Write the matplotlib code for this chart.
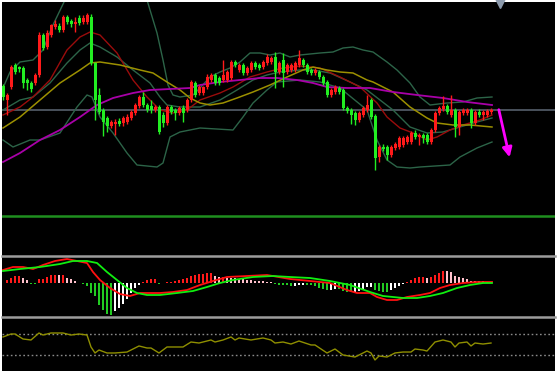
import numpy as np
import matplotlib
matplotlib.use('Agg')
import matplotlib.pyplot as plt
from matplotlib.lines import Line2D

# candles (price units), red = up, green = down
opens = [114, 100, 113, 135, 133, 132, 120, 117, 117, 125, 165, 153, 165, 173, 174, 170, 183, 179, 176, 182,
         178, 178, 183, 137, 105, 90, 82, 74, 76, 79, 77, 78, 82, 87, 94, 103, 95, 94, 90, 93,
         85, 77, 93, 90, 87, 92, 90, 100, 117, 107, 107, 113, 120, 125, 122, 120, 120, 122, 138, 130,
         135, 127, 130, 137, 135, 133, 137, 138, 143, 128, 140, 128, 130, 130, 135, 140, 135, 130, 127, 128,
         123, 118, 105, 108, 112, 110, 92, 90, 87, 80, 85, 90, 100, 84, 43, 53, 53, 45, 52, 53,
         55, 58, 58, 67, 63, 65, 65, 58, 70, 87, 91, 94, 85, 90, 73, 87, 87, 90, 77, 88,
         85, 85, 88]
closes = [103, 105, 133, 128, 131, 117, 117, 111, 125, 165, 152, 167, 175, 176, 170, 183, 178, 176, 178, 177,
          182, 185, 137, 100, 88, 78, 74, 78, 78, 76, 82, 83, 88, 95, 103, 95, 90, 90, 93, 68,
          77, 93, 88, 87, 92, 87, 100, 118, 105, 113, 113, 123, 125, 117, 117, 125, 128, 138, 135, 135,
          127, 132, 137, 133, 132, 138, 143, 142, 128, 137, 127, 135, 135, 137, 142, 135, 128, 127, 130, 123,
          117, 105, 110, 113, 108, 92, 89, 85, 80, 87, 92, 95, 83, 42, 53, 51, 45, 53, 56, 62,
          62, 63, 67, 63, 65, 62, 58, 70, 87, 92, 94, 88, 90, 73, 88, 90, 90, 77, 88, 85,
          88, 89, 90]
highs = [116, 107, 135, 137, 134, 134, 122, 119, 127, 168, 167, 170, 176, 180, 177, 185, 185, 181, 183, 185,
         185, 187, 186, 138, 112, 92, 84, 80, 81, 82, 84, 86, 90, 97, 105, 108, 97, 100, 95, 95,
         88, 95, 95, 92, 94, 95, 102, 120, 119, 115, 114, 126, 127, 127, 124, 140, 130, 140, 140, 137,
         137, 134, 139, 139, 137, 140, 146, 144, 148, 139, 147, 137, 137, 139, 150, 142, 137, 132, 132, 130,
         125, 120, 112, 115, 114, 112, 94, 92, 89, 89, 94, 105, 102, 86, 55, 56, 55, 55, 58, 64,
         64, 65, 69, 70, 67, 67, 67, 72, 89, 94, 104, 96, 105, 92, 90, 92, 92, 92, 90, 91,
         90, 91, 92]
lows = [100, 85, 111, 126, 128, 112, 110, 108, 115, 123, 150, 151, 163, 171, 168, 168, 176, 173, 168, 175,
        176, 176, 135, 80, 86, 64, 68, 72, 65, 74, 74, 76, 80, 85, 92, 93, 88, 87, 88, 66,
        73, 75, 86, 80, 85, 78, 88, 98, 103, 105, 105, 111, 118, 115, 115, 118, 118, 120, 133, 128,
        125, 125, 128, 131, 130, 131, 135, 136, 112, 126, 113, 126, 128, 128, 133, 133, 126, 125, 125, 121,
        115, 103, 103, 106, 106, 90, 87, 76, 75, 78, 83, 88, 81, 30, 38, 49, 40, 43, 50, 51,
        53, 56, 56, 61, 55, 57, 56, 56, 68, 85, 89, 86, 83, 63, 65, 85, 85, 72, 75, 83,
        80, 83, 86]

# indicator lines (bar index, price)
bb_up_x = [0, 1.75, 4.25, 7.5, 10, 12.25, 15.5, 20.5, 25.5, 30.5, 36, 38.5, 40, 41.25, 42.5, 44.25, 47.5,
           49.25, 51.75, 54.25, 56.75, 59.25, 61.75, 64.25, 66.75, 69.25, 71.75, 74.25, 79.25, 82.5, 85,
           87.5, 90, 92.5, 96, 98.5, 101.75, 104.25, 106.75, 111, 115, 118.5, 122.25]
bb_up_y = [112, 128, 138, 140, 150, 173, 200, 230, 242, 230, 200, 167, 140, 115, 105, 103, 105,
           112, 123, 128, 132, 138, 147, 147, 145, 147, 143, 145, 147, 148, 152,
           153, 150, 148, 138, 130, 117, 103, 95, 97, 98, 102, 103]
bb_mid_x = [0, 4.25, 7.5, 11.75, 16, 19.25, 21.75, 24.25, 28.5, 32.5, 36.75, 39.25, 41, 44.25, 49.25,
            54.25, 58.5, 62.5, 66, 69.25, 74.25, 77.5, 81.75, 86.75, 91, 94.25, 97.5, 101.75, 106,
            110, 114.25, 118.5, 122.25]
bb_mid_y = [90, 100, 103, 117, 137, 150, 157, 153, 143, 130, 117, 103, 95, 93, 93,
            100, 110, 120, 125, 128, 130, 130, 127, 118, 110, 100, 90, 73, 67,
            68, 73, 78, 82]
bb_lo_x = [0, 2.5, 6.75, 9.25, 14.25, 18.5, 21, 22.25, 24.25, 27.5, 31, 33.5, 38.5, 40, 41.75, 44.25,
           46.75, 49.25, 57.5, 60, 62.5, 66, 68.5, 74.25, 79.25, 84.25, 91, 93.5, 96, 98.5, 101.75,
           104.25, 111.75, 114.25, 118.5, 122.25]
bb_lo_y = [60, 53, 60, 60, 67, 93, 105, 103, 83, 67, 47, 35, 33, 37, 63, 68,
           70, 72, 70, 83, 97, 110, 118, 120, 118, 112, 90, 60, 40, 33, 32,
           33, 35, 43, 52, 58]
red_x = [0, 4.25, 7.5, 11.75, 16, 19.25, 21.75, 24.25, 28.5, 32.5, 36, 39.25, 42.5, 46, 49.25, 54.25,
         57.5, 61.75, 66, 70, 74.25, 79.25, 84.25, 89.25, 93.5, 96, 99.25, 102.5, 106, 108.5, 111.75,
         115, 119.25, 122.25]
red_y = [85, 93, 103, 120, 150, 163, 168, 165, 147, 120, 103, 90, 87, 90, 100, 107,
         113, 123, 128, 132, 134, 132, 123, 113, 97, 83, 72, 67, 60, 63, 70,
         75, 80, 85]
yel_x = [0, 4.25, 9.25, 14.25, 19.25, 21.75, 24.25, 29.25, 34.25, 37.5, 41, 44.25, 46.75, 49.25, 51.75,
         55, 58.5, 62.5, 66.75, 71, 75, 77.5, 81, 84.25, 87.5, 91, 92.5, 97.5, 101.75, 106, 108.5,
         112.5, 116.75, 122.25]
yel_y = [72, 83, 100, 117, 130, 137, 138, 135, 130, 127, 118, 110, 102, 97, 95,
         97, 102, 108, 115, 123, 130, 133, 130, 128, 127, 120, 118, 108, 93, 82, 77,
         75, 75, 73]
mag_x = [0, 4.25, 9.25, 14.25, 19.25, 23.5, 27.5, 32.5, 36.75, 41.75, 46.75, 49.25, 54.25, 59.25, 64.25,
         68.5, 73.5, 77.5, 81, 86, 91.75, 97.5, 103.5, 110, 116, 122.25]
mag_y = [38, 47, 60, 70, 83, 95, 102, 107, 110, 111, 112, 115, 118, 120, 122,
         122, 120, 117, 113, 112, 112, 108, 105, 102, 98, 95]
support_level = 90
green_level = -16

# MACD
macd_hist = [0.5, 3, 5, 7, 7.5, 5, 3, -1, -1, 4, 4.5, 6, 8, 8.5, 8, 8.5, 5, 4, 2, 0.3,
             -1, -3, -10, -13, -22, -27, -31, -31.5, -28, -25, -21, -16, -10, -5, -2, 1, 3, 4, 4.2, -0.5,
             0.5, 1, 1.2, 2, 3, 4, 5, 7, 8, 9, 9.2, 10, 10.5, 7, 6, 6.2, 5, 4.8, 4.6, 4,
             3.8, 3, 2.8, 2.5, 2.3, 2, 1.5, 1,
             -1, -2, -2.2, -2.4, -3, -2.8, -2.2, -2, -2.2, -2.4, -3, -5, -6, -7, -6.8, -6, -6.2, -8, -9, -9.3,
             -9, -8, -6, -4, -3.8, -7, -8, -9, -9.2, -7, -5, -3, -1, 1, 3, 5, 6, 6.2, 5, 6,
             8, 10, 12, 11.8, 11, 7, 6, 5, 4, 2.5, 2.3, 2, 1.8, 1.5, 1.3]
macd_x = [0, 2.5, 5, 7.5, 10, 13, 16, 18.5, 21, 22.5, 24.25, 26.75, 29.25, 31.75, 34.25, 36.75, 39.25,
          42.5, 46, 49.25, 52.5, 56, 61, 66, 71.75, 76.75, 81.75, 86, 88.5, 91.75, 93.5, 96, 98.5,
          101, 104.25, 106.75, 109.25, 111.75, 115, 118.5, 122.25]
macd_y = [13, 16, 16, 14, 18, 22, 24, 22, 20, 11, 3, -5, -11, -13, -10, -10, -10,
          -9, -7, -2, 2, 6, 7, 8, 4, 2, 0, -7, -10, -10, -14, -17, -17,
          -14, -12, -10, -5, -2, 0, 1, 1]
sig_x = [0, 4.25, 9.25, 14.25, 17.5, 21, 23.5, 26, 28.5, 31, 33.5, 36, 39.25, 43.5, 47.5, 51, 54.25,
         57.5, 62.5, 67.5, 71.75, 76.75, 81.75, 86.75, 91.75, 95, 100, 103.5, 106.75, 110, 113.5,
         116.75, 120, 122.25]
sig_y = [12, 14, 16, 19, 22, 22, 20, 11, 3, -5, -10, -12, -12, -10, -8, -4, 0,
         3, 6, 7, 6, 5, 2, -2, -9, -13, -15, -15, -13, -10, -5,
         -2, 0, 0]

# oscillator
osc_idx = [0, 2, 3, 5, 7, 9, 10, 12, 15, 17, 19, 21, 22, 23, 24, 26, 28, 31, 33, 34,
           36, 37, 39, 41, 45, 47, 49, 52, 53, 55, 57, 58, 59, 62, 65, 67, 68, 70, 72, 74,
           77, 78, 81, 83, 85, 88, 91, 92, 93, 94, 96, 98, 100, 102, 103, 105, 106, 108, 110, 112,
           113, 114, 116, 117, 118, 120, 122]
osc_val = [64.2, 69.8, 69.8, 60.4, 58.5, 71.7, 67.9, 71.7, 71.7, 67.9, 69.8, 67.9, 45.3, 34, 39.6, 34, 34, 35.8, 43.4, 47.2,
           43.4, 43.4, 34, 45.3, 45.3, 54.7, 52.8, 58.5, 54.7, 58.5, 64.2, 58.5, 62.3, 58.5, 62.3, 58.5, 52.8, 54.7, 50.9, 56.6,
           49.1, 49.1, 34, 41.5, 30.2, 26.4, 37.7, 34, 20.8, 28.3, 26.4, 34, 35.8, 35.8, 41.5, 39.6, 37.7, 54.7, 58.5, 54.7,
           45.3, 52.8, 54.7, 47.2, 52.8, 50.9, 52.8]
osc_levels = [70, 30]

W, H = 557, 374
fig = plt.figure(figsize=(W / 100, H / 100), dpi=100, facecolor='white')


def px_axes(x0, y0, x1, y1):
    a = fig.add_axes([x0 / W, 1 - y1 / H, (x1 - x0) / W, (y1 - y0) / H])
    a.set_axis_off()
    return a


bg = px_axes(2, 2, 555, 371)
bg.set_facecolor('black')
bg.set_axis_on()
bg.set_xticks([])
bg.set_yticks([])
for s in bg.spines.values():
    s.set_visible(False)

XLIM = (-0.25, 138)

# price panel
ax = px_axes(2, 2, 555, 255)
ax.set_xlim(*XLIM)
ax.set_ylim(-55, 198)
n = len(opens)
x = np.arange(n)
o = np.array(opens)
c = np.array(closes)
up = c >= o
col = np.where(up, '#ff1a1a', '#22ee22')
ax.axhline(support_level, color='#56606c', lw=1.2, zorder=1)
ax.axhline(green_level, color='#1f8f1f', lw=1.8, zorder=1)
ax.vlines(x, lows, highs, colors=col, lw=1, zorder=3)
ax.bar(x, np.abs(c - o) + 0.6, bottom=np.minimum(o, c) - 0.3, width=0.75, color=col, zorder=4)
ax.plot(bb_up_x, bb_up_y, color='#2c6448', lw=1, zorder=2)
ax.plot(bb_mid_x, bb_mid_y, color='#2c6448', lw=1, zorder=2)
ax.plot(bb_lo_x, bb_lo_y, color='#2c6448', lw=1, zorder=2)
ax.plot(red_x, red_y, color='#9a0c0c', lw=1, zorder=2)
ax.plot(yel_x, yel_y, color='#9c9000', lw=1.1, zorder=2)
ax.plot(mag_x, mag_y, color='#a800a8', lw=1.3, zorder=2)
ax.annotate('', xy=(126.8, 40), xytext=(123.8, 93),
            arrowprops=dict(arrowstyle='-|>', color='#ff00ff', lw=2, mutation_scale=14))
ax.plot([124.25], [196.8], marker='v', color='#8c9aac', markersize=7, clip_on=False)

# separators
for yy in (256, 317):
    fig.add_artist(Line2D([2 / W, 555 / W], [1 - yy / H, 1 - yy / H], color='#9c9c9c', lw=1.8))

# MACD panel
am = px_axes(2, 258, 555, 316)
am.set_xlim(*XLIM)
am.set_ylim(-33, 25)
h = np.array(macd_hist)
prev = np.concatenate([[0], h[:-1]])
hcol = np.where(h >= 0, np.where(h >= prev, '#ff1a1a', '#ffc0cb'),
                np.where(h <= prev, '#22cc22', '#ffffff'))
am.bar(np.arange(len(h)), h, width=0.45, color=hcol)
am.plot(macd_x, macd_y, color='#ff1010', lw=1.3)
am.plot(sig_x, sig_y, color='#10ee10', lw=1.3)

# oscillator panel
ar = px_axes(2, 318, 555, 371)
ar.set_xlim(*XLIM)
ar.set_ylim(0, 100)
for lv in osc_levels:
    ar.axhline(lv, color='#8a8a8a', lw=1, linestyle=(0, (1.2, 1.8)))
ar.plot(osc_idx, osc_val, color='#8f8f00', lw=1)

fig.savefig('out.png', dpi=100, facecolor='white')
